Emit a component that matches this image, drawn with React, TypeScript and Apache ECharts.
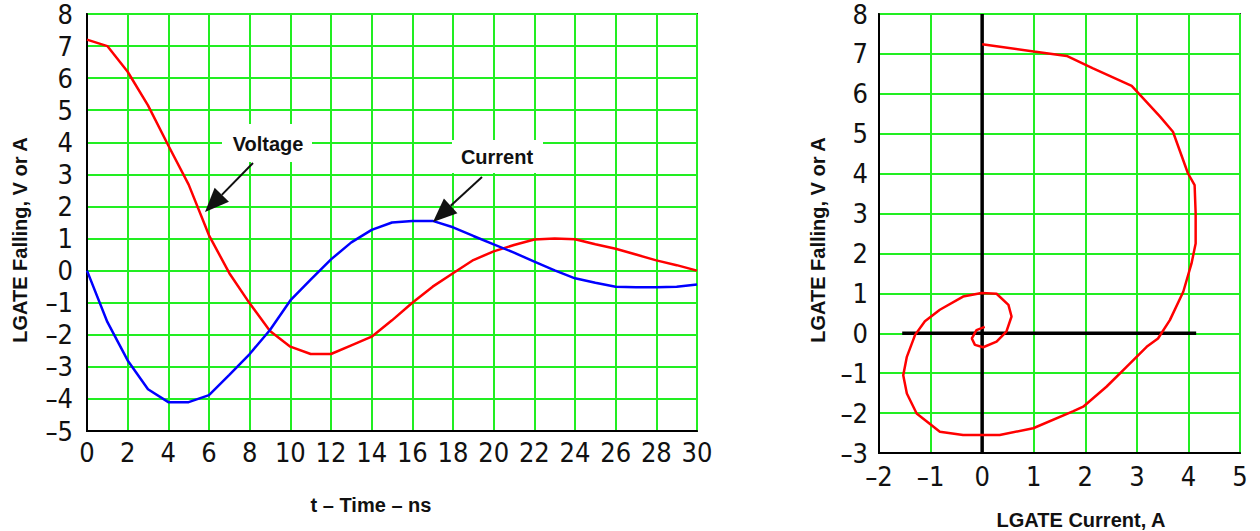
import React, { useEffect, useRef } from "react";
import * as echarts from "echarts";

// ---- Left chart: LGATE falling vs time ----
const timeNs = [0, 1, 2, 3, 4, 5, 6, 7, 8, 9, 10, 11, 12, 13, 14, 15, 16, 17, 18, 19, 20, 21, 22, 23, 24, 25, 26, 27, 28, 29, 30];
const voltage = [7.2, 7.0, 6.2, 5.15, 3.9, 2.68, 1.1, -0.08, -1.02, -1.88, -2.37, -2.6, -2.6, -2.33, -2.06, -1.55, -1.0, -0.5, -0.08, 0.33, 0.6, 0.8, 0.97, 1.0, 0.98, 0.82, 0.68, 0.5, 0.32, 0.17, 0.0];
const current = [0, -1.6, -2.8, -3.7, -4.1, -4.1, -3.88, -3.25, -2.6, -1.85, -0.93, -0.28, 0.35, 0.88, 1.27, 1.5, 1.55, 1.55, 1.35, 1.08, 0.82, 0.56, 0.28, 0.01, -0.24, -0.38, -0.5, -0.52, -0.52, -0.5, -0.43];

// ---- Right chart: phase plot (current vs voltage) ----
const phaseCurrent = [0.0, 1.0, 1.64, 2.15, 2.9, 3.45, 3.7, 3.99, 4.12, 4.14, 4.14, 4.06, 3.9, 3.64, 3.41, 3.19, 2.8, 2.41, 1.96, 1.77, 0.99, 0.34, -0.37, -0.82, -1.27, -1.46, -1.53, -1.46, -1.3, -1.11, -0.82, -0.37, -0.01, 0.28, 0.51, 0.57, 0.47, 0.28, 0.02, -0.14, -0.2, -0.11, 0.05];
const phaseVoltage = [7.24, 7.06, 6.95, 6.64, 6.2, 5.43, 5.05, 4.01, 3.71, 3.0, 2.25, 1.75, 1.04, 0.33, -0.13, -0.34, -0.84, -1.34, -1.84, -1.95, -2.38, -2.55, -2.55, -2.47, -2.01, -1.51, -1.05, -0.59, -0.04, 0.3, 0.59, 0.92, 1.01, 0.99, 0.71, 0.42, 0.04, -0.21, -0.35, -0.29, -0.13, 0.08, 0.16];
const zeroAxisH = [[-1.55, 0], [4.15, 0]];
const zeroAxisV = [[0, 8], [0, -3]];

const leftYTitle = "LGATE Falling, V or A";
const leftXTitle = "t \u2013 Time \u2013 ns";
const rightXTitle = "LGATE Current, A";
const labelVoltage = "Voltage";
const labelCurrent = "Current";

const GRID_GREEN = "#22ee22";
const TICK_FONT = "'Liberation Sans Narrow', 'DejaVu Sans Condensed', 'Liberation Sans', Arial, sans-serif";
const BOLD_FONT = "'Liberation Sans', Arial, sans-serif";

const fmt = (v: number) => (v < 0 ? "\u2013" + Math.abs(v) : String(v));

function arrow(x1: number, y1: number, x2: number, y2: number) {
  const dx = x2 - x1;
  const dy = y2 - y1;
  const len = Math.sqrt(dx * dx + dy * dy);
  const ux = dx / len;
  const uy = dy / len;
  const hl = 24;
  const hw = 10;
  const bx = x2 - ux * hl;
  const by = y2 - uy * hl;
  const px = -uy;
  const py = ux;
  return [
    { type: "line", shape: { x1, y1, x2: bx, y2: by }, style: { stroke: "#111", lineWidth: 2 }, z: 100 },
    {
      type: "polygon",
      shape: { points: [[x2, y2], [bx + px * hw, by + py * hw], [bx - px * hw, by - py * hw]] },
      style: { fill: "#111" },
      z: 100,
    },
  ];
}

function valueAxis(gridIndex: number, min: number, max: number, interval: number, margin: number) {
  return {
    type: "value",
    gridIndex,
    min,
    max,
    interval,
    axisLine: { show: true, onZero: false, lineStyle: { color: "#000", width: 2 } },
    axisTick: { show: false },
    splitLine: { show: true, lineStyle: { color: GRID_GREEN, width: 2 } },
    axisLabel: {
      formatter: fmt,
      color: "#111",
      fontSize: 27,
      fontFamily: TICK_FONT,
      margin,
    },
  };
}

export default function App() {
  const ref = useRef<HTMLDivElement>(null);
  useEffect(() => {
    if (!ref.current) return;
    const chart = echarts.init(ref.current, null, { renderer: "svg" });
    const titleStyle = { fontSize: 20, fontWeight: "bold", fontFamily: BOLD_FONT, fill: "#111" };
    chart.setOption({
      animation: false,
      backgroundColor: "#fff",
      grid: [
        { left: 87, top: 14, width: 610, height: 417, show: true, borderColor: "#333", borderWidth: 2, backgroundColor: "transparent" },
        { left: 879, top: 14, width: 361, height: 439, show: true, borderColor: "#333", borderWidth: 2, backgroundColor: "transparent" },
      ],
      xAxis: [valueAxis(0, 0, 30, 2, 8), valueAxis(1, -2, 5, 1, 10)],
      yAxis: [valueAxis(0, -5, 8, 1, 14), valueAxis(1, -3, 8, 1, 11)],
      series: [
        {
          type: "line",
          name: labelVoltage,
          xAxisIndex: 0,
          yAxisIndex: 0,
          data: timeNs.map((t, i) => [t, voltage[i]]),
          showSymbol: false,
          lineStyle: { color: "#ff0000", width: 2.5 },
          z: 5,
        },
        {
          type: "line",
          name: labelCurrent,
          xAxisIndex: 0,
          yAxisIndex: 0,
          data: timeNs.map((t, i) => [t, current[i]]),
          showSymbol: false,
          lineStyle: { color: "#0000ff", width: 2.5 },
          z: 5,
        },
        {
          type: "line",
          xAxisIndex: 1,
          yAxisIndex: 1,
          data: zeroAxisH,
          showSymbol: false,
          lineStyle: { color: "#000", width: 3.5 },
          z: 4,
        },
        {
          type: "line",
          xAxisIndex: 1,
          yAxisIndex: 1,
          data: zeroAxisV,
          showSymbol: false,
          lineStyle: { color: "#000", width: 3.5 },
          z: 4,
        },
        {
          type: "line",
          xAxisIndex: 1,
          yAxisIndex: 1,
          data: phaseCurrent.map((c, i) => [c, phaseVoltage[i]]),
          showSymbol: false,
          lineStyle: { color: "#ff0000", width: 2.5 },
          z: 5,
        },
      ],
      graphic: [
        { type: "text", x: 20, y: 240, rotation: Math.PI / 2, style: { ...titleStyle, text: leftYTitle, align: "center", verticalAlign: "middle" } },
        { type: "text", x: 818, y: 240, rotation: Math.PI / 2, style: { ...titleStyle, text: leftYTitle, align: "center", verticalAlign: "middle" } },
        { type: "text", x: 371, y: 505, style: { ...titleStyle, text: leftXTitle, align: "center", verticalAlign: "middle" } },
        { type: "text", x: 1081, y: 520, style: { ...titleStyle, text: rightXTitle, align: "center", verticalAlign: "middle" } },
        { type: "rect", shape: { x: 222, y: 124, width: 90, height: 38 }, style: { fill: "#fff" }, z: 90 },
        { type: "text", x: 268, y: 144, z: 100, style: { ...titleStyle, text: labelVoltage, align: "center", verticalAlign: "middle" } },
        { type: "rect", shape: { x: 452, y: 140, width: 91, height: 33 }, style: { fill: "#fff" }, z: 90 },
        { type: "text", x: 497, y: 157, z: 100, style: { ...titleStyle, text: labelCurrent, align: "center", verticalAlign: "middle" } },
        ...arrow(253, 163, 205, 212),
        ...arrow(482, 177, 433, 222),
      ],
    });
    return () => chart.dispose();
  }, []);
  return <div ref={ref} style={{ position: "fixed", left: 0, top: 0, width: 1260, height: 531 }} />;
}
